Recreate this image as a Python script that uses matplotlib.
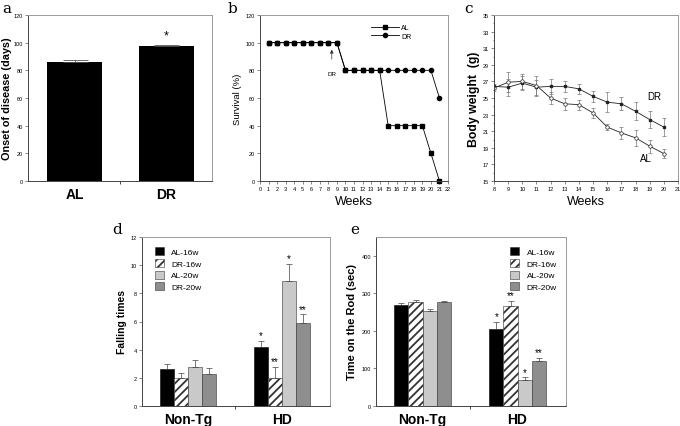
import matplotlib.pyplot as plt
from matplotlib.patches import Patch
from matplotlib.lines import Line2D

# a: onset of disease
onset_groups = ["AL", "DR"]
onset_days = [86, 97.5]
onset_err = [1.6, 0.6]

# b: survival
surv_weeks = [1, 2, 3, 4, 5, 6, 7, 8, 9, 10, 11, 12, 13, 14, 15, 16, 17, 18, 19, 20, 21]
surv_al = [100, 100, 100, 100, 100, 100, 100, 100, 100, 80, 80, 80, 80, 80, 40, 40, 40, 40, 40, 20, 0]
surv_dr = [100, 100, 100, 100, 100, 100, 100, 100, 100, 80, 80, 80, 80, 80, 80, 80, 80, 80, 80, 80, 60]

# c: body weight
bw_weeks = [8, 9, 10, 11, 12, 13, 14, 15, 16, 17, 18, 19, 20]
bw_dr = [26.4, 26.3, 26.8, 26.3, 26.4, 26.4, 26.1, 25.2, 24.5, 24.3, 23.4, 22.4, 21.5]
bw_dr_err = [0.3, 1.0, 0.8, 0.9, 0.9, 0.7, 0.6, 0.7, 1.2, 0.8, 1.1, 1.0, 1.1]
bw_al = [26.2, 26.9, 27.0, 26.5, 25.0, 24.3, 24.2, 23.2, 21.5, 20.8, 20.2, 19.2, 18.3]
bw_al_err = [0.3, 1.2, 0.9, 1.2, 0.7, 0.7, 0.6, 0.6, 0.4, 0.7, 1.0, 0.8, 0.5]

# d / e: rotarod
rod_groups = ["Non-Tg", "HD"]
rod_series = ["AL-16w", "DR-16w", "AL-20w", "DR-20w"]
fall_vals = [[2.6, 4.2], [2.0, 2.0], [2.8, 8.85], [2.3, 5.9]]
fall_err = [[0.4, 0.45], [0.35, 0.8], [0.45, 1.25], [0.4, 0.6]]
fall_stars = [["", "*"], ["", "**"], ["", "*"], ["", "**"]]
rod_vals = [[268, 205], [278, 265], [253, 70], [277, 120]]
rod_err = [[7, 20], [4, 15], [6, 6], [3, 9]]
rod_stars = [["", "*"], ["", "**"], ["", "*"], ["", "**"]]

bar_colors = ["black", "white", "#c9c9c9", "#8e8e8e"]
bar_hatch = [None, "////", None, None]

plt.rcParams["font.family"] = ["Liberation Sans", "DejaVu Sans"]
plt.rcParams["hatch.linewidth"] = 1.3

fig = plt.figure(figsize=(6.8, 4.27), dpi=100)
W, H = 680, 427


def px_axes(left, top, right, bottom):
    return fig.add_axes([left / W, 1 - bottom / H, (right - left) / W, (bottom - top) / H])


def frame(ax):
    for side in ["left", "bottom"]:
        ax.spines[side].set_color("#444444")
        ax.spines[side].set_linewidth(0.7)
    for side in ["top", "right"]:
        ax.spines[side].set_color("#9a9a9a")
        ax.spines[side].set_linewidth(0.7)
    ax.tick_params(labelsize=4, length=2, width=0.5, color="#555555", pad=1.5)


def letter(x, y, s):
    fig.text(x / W, 1 - y / H, s, fontsize=11, family="DejaVu Serif", va="center", ha="left")


# ---- a
ax = px_axes(28, 16, 212, 182)
ax.bar([0, 1], onset_days, width=0.6, color="black",
       yerr=[[0, 0], onset_err], capsize=9, error_kw=dict(ecolor="#555555", elinewidth=0.6, capthick=0.6))
ax.text(1, 103, "*", ha="center", fontsize=9)
ax.set_xlim(-0.51, 1.5)
ax.set_ylim(0, 120)
ax.set_yticks(range(0, 121, 20))
ax.set_xticks([0, 1])
ax.set_xticklabels(onset_groups, fontsize=10, fontweight="bold")
ax.set_xticks([0.5], minor=True)
ax.set_ylabel("Onset of disease (days)", fontsize=7.8, fontweight="bold", labelpad=1)
frame(ax)
ax.tick_params(axis="x", which="major", length=0, labelsize=10, pad=4)
ax.tick_params(axis="x", which="minor", length=2, width=0.5)
letter(2, 9, "a")

# ---- b
ax = px_axes(260, 16, 448, 182)
ax.plot(surv_weeks, surv_dr, "-o", color="black", lw=0.6, ms=3, label="DR", clip_on=False)
ax.plot(surv_weeks, surv_al, "-s", color="black", lw=0.6, ms=3, label="AL", clip_on=False)
ax.annotate("", xy=(8.4, 97), xytext=(8.4, 86),
            arrowprops=dict(arrowstyle="-|>", color="#333333", lw=0.5, mutation_scale=5))
ax.text(8.4, 78, "DR", fontsize=4.5, ha="center", va="center")
ax.set_xlim(0, 22)
ax.set_ylim(0, 120)
ax.set_xticks(range(0, 23))
ax.set_yticks(range(0, 121, 20))
ax.set_xlabel("Weeks", fontsize=9, labelpad=3)
ax.set_ylabel("Survival (%)", fontsize=6.8, labelpad=3)
handles = [Line2D([], [], color="black", lw=0.6, marker="s", ms=3),
           Line2D([], [], color="black", lw=0.6, marker="o", ms=3)]
ax.legend(handles, ["AL", "DR"], loc="upper right", bbox_to_anchor=(0.82, 0.96), frameon=False,
          fontsize=5, handlelength=4, labelspacing=0.2, borderaxespad=0, handletextpad=0.3)
frame(ax)
letter(228, 9, "b")

# ---- c
ax = px_axes(494, 16, 678, 182)
ekw = dict(ecolor="#777777", elinewidth=0.5, capsize=1.5, capthick=0.5)
ax.errorbar(bw_weeks, bw_dr, yerr=bw_dr_err, fmt="-s", color="#222222", lw=0.6, ms=2,
            mfc="#222222", **ekw)
ax.errorbar(bw_weeks, bw_al, yerr=bw_al_err, fmt="-o", color="#222222", lw=0.6, ms=2.5,
            mfc="white", mew=0.5, **ekw)
ax.text(19.3, 25.3, "DR", fontsize=7, ha="center", va="center")
ax.text(18.7, 17.8, "AL", fontsize=7, ha="center", va="center")
ax.set_xlim(8, 21)
ax.set_ylim(15, 35)
ax.set_xticks(range(8, 22))
ax.set_yticks(range(15, 36, 2))
ax.set_yticks(range(15, 36), minor=True)
ax.set_xlabel("Weeks", fontsize=9, labelpad=3)
ax.set_ylabel("Body weight  (g)", fontsize=8.8, fontweight="bold", labelpad=2)
frame(ax)
ax.tick_params(which="minor", length=1, width=0.4)
letter(464, 9, "c")


def rod_panel(ax, vals, errs, stars, ymax, yticks, ylabel, leg_loc, leg_anchor, star_off):
    width = 0.148
    for i, name in enumerate(rod_series):
        xs = [g + (i - 1.5) * width for g in range(len(rod_groups))]
        ax.bar(xs, vals[i], width=width, color=bar_colors[i], hatch=bar_hatch[i],
               edgecolor="#333333" if i != 0 else "black", linewidth=0.4,
               yerr=[[0, 0], errs[i]], capsize=2.2,
               error_kw=dict(ecolor="#444444", elinewidth=0.5, capthick=0.5), label=name)
        for x, v, e, s in zip(xs, vals[i], errs[i], stars[i]):
            if s:
                ax.text(x, v + e + star_off, s, ha="center", va="bottom", fontsize=7)
    ax.set_xlim(-0.49, 1.51)
    ax.set_ylim(0, ymax)
    ax.set_yticks(yticks)
    ax.set_xticks(range(len(rod_groups)))
    ax.set_xticklabels(rod_groups)
    ax.set_xticks([0.5], minor=True)
    ax.set_ylabel(ylabel, fontsize=ylabel_size[ylabel], fontweight="bold", labelpad=3)
    frame(ax)
    ax.tick_params(axis="x", which="major", length=0, labelsize=10, pad=4)
    ax.tick_params(axis="x", which="minor", length=2, width=0.5)
    for t in ax.get_xticklabels():
        t.set_fontweight("bold")
    handles = [Patch(facecolor=bar_colors[i], hatch=bar_hatch[i], edgecolor="#333333",
                     linewidth=0.4, label=rod_series[i]) for i in range(4)]
    ax.legend(handles=handles, loc=leg_loc, bbox_to_anchor=leg_anchor, frameon=False,
              fontsize=6, handlelength=1.1, handleheight=1.1, labelspacing=0.35,
              handletextpad=0.9, borderaxespad=0)


ylabel_size = {"Falling times": 7.5, "Time on the Rod (sec)": 8}

# ---- d
ax = px_axes(142, 238, 330, 407)
rod_panel(ax, fall_vals, fall_err, fall_stars, 12, range(0, 13, 2), "Falling times",
          "upper left", (0.05, 0.96), 0.05)
letter(112, 230, "d")

# ---- e
ax = px_axes(376, 238, 566, 407)
rod_panel(ax, rod_vals, rod_err, rod_stars, 450, range(0, 401, 100), "Time on the Rod (sec)",
          "upper right", (0.97, 0.96), 2)
letter(350, 230, "e")

fig.savefig("out.png", dpi=100)
